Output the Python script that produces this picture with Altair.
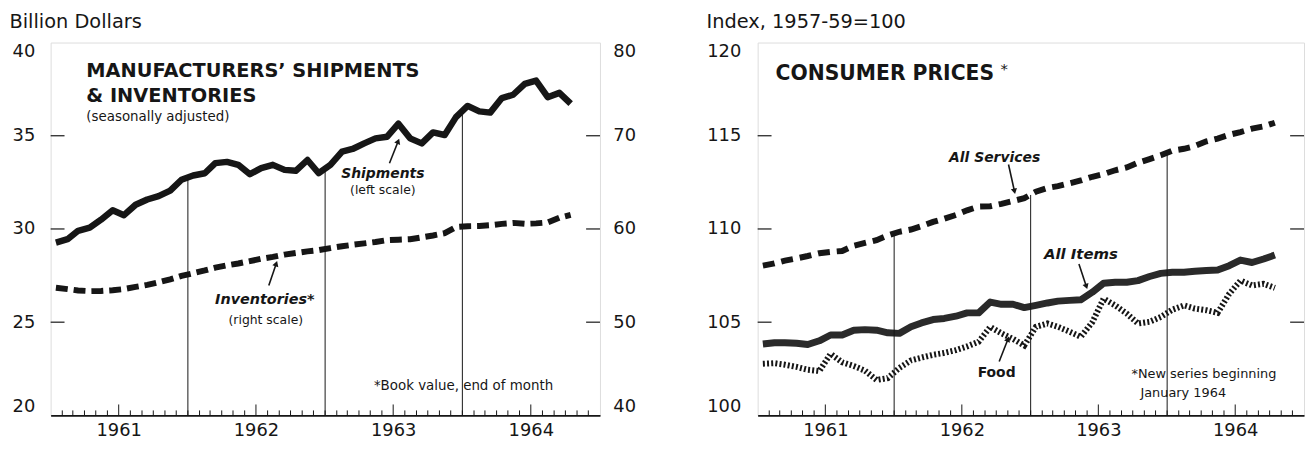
import math
import altair as alt
import pandas as pd

# ---------------- data (monthly, Jan 1961 - Oct 1964) ----------------
months = [f"{1961 + i // 12}-{i % 12 + 1:02d}-15" for i in range(46)]

shipments = [29.27, 29.45, 29.90, 30.07, 30.50, 31.00, 30.74, 31.30, 31.58, 31.76, 32.06, 32.64,
             32.87, 32.99, 33.53, 33.60, 33.44, 32.94, 33.26, 33.44, 33.17, 33.12, 33.70, 32.99,
             33.44, 34.15, 34.29, 34.59, 34.86, 34.95, 35.65, 34.86, 34.59, 35.18, 35.04, 36.00,
             36.60, 36.31, 36.24, 37.02, 37.20, 37.78, 37.96, 37.07, 37.30, 36.72]

inventories = [53.70, 53.55, 53.40, 53.33, 53.35, 53.43, 53.55, 53.78, 54.00, 54.28, 54.60, 54.97,
               55.25, 55.55, 55.85, 56.10, 56.30, 56.55, 56.80, 57.00, 57.25, 57.42, 57.60, 57.73,
               57.95, 58.15, 58.30, 58.45, 58.60, 58.80, 58.85, 58.90, 59.10, 59.30, 59.55, 60.20,
               60.30, 60.32, 60.40, 60.55, 60.65, 60.55, 60.60, 60.70, 61.20, 61.50]

services = [108.03, 108.15, 108.30, 108.42, 108.55, 108.70, 108.77, 108.82, 109.10, 109.25, 109.40, 109.65,
            109.85, 109.97, 110.15, 110.38, 110.55, 110.75, 111.00, 111.20, 111.22, 111.35, 111.50, 111.65,
            112.00, 112.20, 112.30, 112.45, 112.60, 112.80, 112.94, 113.15, 113.30, 113.55, 113.75, 113.95,
            114.20, 114.30, 114.45, 114.70, 114.85, 115.05, 115.20, 115.38, 115.50, 115.70]

all_items = [103.83, 103.90, 103.90, 103.87, 103.80, 104.00, 104.31, 104.31, 104.57, 104.60, 104.57, 104.43,
             104.40, 104.75, 104.96, 105.14, 105.20, 105.32, 105.50, 105.50, 106.08, 105.96, 105.96, 105.78,
             105.90, 106.03, 106.13, 106.17, 106.20, 106.61, 107.09, 107.14, 107.14, 107.23, 107.45, 107.62,
             107.68, 107.68, 107.73, 107.77, 107.80, 108.03, 108.33, 108.20, 108.39, 108.60]

food = [102.77, 102.80, 102.72, 102.60, 102.45, 102.38, 103.30, 102.85, 102.65, 102.40, 101.90, 102.00,
        102.55, 102.95, 103.10, 103.25, 103.35, 103.50, 103.70, 103.95, 104.75, 104.40, 104.10, 103.75,
        104.75, 104.93, 104.75, 104.49, 104.22, 105.00, 106.26, 105.90, 105.46, 104.93, 105.02, 105.28,
        105.67, 105.90, 105.73, 105.64, 105.50, 106.52, 107.23, 106.97, 107.06, 106.84]

year_labels = [1961, 1962, 1963, 1964]
left_ticks = [20, 25, 30, 35, 40]
right_ticks = [40, 50, 60, 70, 80]
cpi_ticks = [100, 105, 110, 115, 120]

# ---------------- style ----------------
FONT = "DejaVu Sans"
INK = "#161616"
W1, W2, H = 554, 551, 376


def dt(y, m, d=1):
    return alt.DateTime(year=y, month=m, date=d, utc=True)


xscale = alt.Scale(type="utc", domain=[dt(1961, 1), dt(1965, 1)])
one = pd.DataFrame({"a": [0]})

xaxis = alt.Axis(values=[dt(y, 7) for y in year_labels],
                 labelExpr="utcFormat(datum.value, '%Y')",
                 ticks=False, tickSize=0, grid=False, domain=True, domainColor=INK, domainWidth=2,
                 labelFont=FONT, labelFontSize=18, labelColor=INK, labelPadding=6,
                 labelFlush=False, labelOverlap=False, title=None)


def X():
    return alt.X("date:T", scale=xscale, axis=xaxis)


def yaxis(values, title=None, orient="left", pad=16, tx=-42):
    kw = dict(values=values, orient=orient, ticks=False, tickSize=0, domain=False, grid=False,
              labelFlush=True, labelPadding=pad, labelFont=FONT, labelFontSize=18, labelColor=INK)
    if title:
        kw.update(title=title, titleAngle=0, titleAlign="left", titleBaseline="alphabetic",
                  titleX=tx, titleY=-15, titleFont=FONT, titleFontSize=19.5,
                  titleFontWeight="normal", titleColor=INK)
    else:
        kw.update(title=None)
    return alt.Axis(**kw)


def label(txt, x, y, size, weight="normal", style="normal", align="left"):
    return alt.Chart(one).mark_text(text=txt, font=FONT, fontSize=size, fontWeight=weight,
                                    fontStyle=style, align=align, baseline="alphabetic",
                                    color=INK).encode(x=alt.value(x), y=alt.value(y))


def arrow(x0, y0, x1, y1):
    ang = math.degrees(math.atan2(x1 - x0, -(y1 - y0))) % 360
    shaft = alt.Chart(one).mark_rule(color=INK, strokeWidth=1.6).encode(
        x=alt.value(x0), y=alt.value(y0), x2=alt.value(x1), y2=alt.value(y1))
    head = alt.Chart(one).mark_point(shape="triangle-up", filled=True, size=40, color=INK,
                                     opacity=1, angle=ang).encode(x=alt.value(x1), y=alt.value(y1))
    return [shaft, head]


tick_dates = [f"{1961 + i // 12}-{i % 12 + 1:02d}-01" for i in range(1, 48)]
small_df = pd.DataFrame({"date": [d for i, d in zip(range(1, 48), tick_dates) if i % 12 != 6]})
tall_df = pd.DataFrame({"date": [d for i, d in zip(range(1, 48), tick_dates) if i % 12 == 6]})


def month_ticks():
    s = alt.Chart(small_df).mark_rule(color=INK, strokeWidth=1).encode(
        x=X(), y=alt.value(H), y2=alt.value(H - 5))
    t = alt.Chart(tall_df).mark_rule(color=INK, strokeWidth=1).encode(
        x=X(), y=alt.value(H), y2=alt.value(H - 11))
    return [s, t]


def side_ticks(vals, sc, w, ax):
    d = pd.DataFrame({"v": vals})
    a = alt.Chart(d).mark_rule(color=INK, strokeWidth=1.2).encode(
        y=alt.Y("v:Q", scale=sc, axis=ax), x=alt.value(0), x2=alt.value(14))
    b = alt.Chart(d).mark_rule(color=INK, strokeWidth=1.2).encode(
        y=alt.Y("v:Q", scale=sc, axis=ax), x=alt.value(w - 14), x2=alt.value(w))
    return [a, b]


def year_lines(series, sc, ax):
    d = pd.DataFrame({"date": [f"{y}-01-01" for y in (1962, 1963, 1964)],
                      "top": [(series[12 * k - 1] + series[12 * k]) / 2 for k in (1, 2, 3)]})
    return alt.Chart(d).mark_rule(color=INK, strokeWidth=1).encode(
        x=X(), y=alt.Y("top:Q", scale=sc, axis=ax), y2=alt.value(H))


# ---------------- left panel ----------------
dfL = pd.DataFrame({"date": months, "shipments": shipments, "inventories": inventories})
ysL = alt.Scale(domain=[20, 40], zero=False, nice=False)
ysR = alt.Scale(domain=[40, 80], zero=False, nice=False)

ship = alt.Chart(dfL).mark_line(color=INK, strokeWidth=6.5, strokeJoin="round").encode(
    x=X(), y=alt.Y("shipments:Q", scale=ysL, axis=yaxis(left_ticks, "Billion Dollars", "left", 16, -42)))
inv = alt.Chart(dfL).mark_line(color=INK, strokeWidth=6, strokeDash=[12, 6]).encode(
    x=X(), y=alt.Y("inventories:Q", scale=ysR, axis=yaxis(right_ticks, None, "right", 13)))

left_layers = [ship, inv, year_lines(shipments, ysL, None)] + month_ticks() + side_ticks([25, 30, 35], ysL, W1, None)
left_layers += [
    label("MANUFACTURERS\u2019 SHIPMENTS", 36, 35, 19.5, "bold"),
    label("& INVENTORIES", 36, 60, 19.5, "bold"),
    label("(seasonally adjusted)", 36, 79, 13.5),
    label("Shipments", 335, 137, 14, "bold", "italic", "center"),
    label("(left scale)", 335, 153, 12.5, align="center"),
    label("Inventories*", 216, 264, 14.5, "bold", "italic", "center"),
    label("(right scale)", 217, 284, 12.5, align="center"),
    label("*Book value, end of month", 326, 350, 13.5),
]
left_layers += arrow(341.7, 121.7, 350.5, 99.5) + arrow(220, 245, 227.5, 223)

left = alt.layer(*left_layers).resolve_scale(y="independent").properties(width=W1, height=H)

# ---------------- right panel ----------------
dfR = pd.DataFrame({"date": months, "services": services, "items": all_items, "food": food})
ysC = alt.Scale(domain=[100, 120], zero=False, nice=False)
yaxC = yaxis(cpi_ticks, "Index, 1957-59=100", "left", 17, -52)

serv = alt.Chart(dfR).mark_line(color=INK, strokeWidth=6, strokeDash=[12, 7]).encode(
    x=X(), y=alt.Y("services:Q", scale=ysC, axis=yaxC))
items = alt.Chart(dfR).mark_line(color="#2a2a2a", strokeWidth=7, strokeJoin="round").encode(
    x=X(), y=alt.Y("items:Q", scale=ysC, axis=yaxC))
fd = alt.Chart(dfR).mark_line(color=INK, strokeWidth=6, strokeDash=[2, 2.2]).encode(
    x=X(), y=alt.Y("food:Q", scale=ysC, axis=yaxC))

right_layers = [serv, items, fd, year_lines(services, ysC, yaxC)] + month_ticks() + side_ticks([105, 110, 115], ysC, W2, yaxC)
right_layers += [
    label("CONSUMER  PRICES", 18, 38, 20.5, "bold"),
    label("*", 245, 32, 15),
    label("All Services", 239, 120, 14, "bold", "italic", "center"),
    label("All Items", 326, 218, 15, "bold", "italic", "center"),
    label("Food", 241, 337, 14, "bold", align="center"),
    label("*New series beginning", 377, 338, 13),
    label("January 1964", 386, 357, 13),
]
right_layers += arrow(253, 123, 259, 150) + arrow(324, 223.3, 331.5, 246) + arrow(243.6, 321.7, 252.5, 299)

right = alt.layer(*right_layers).properties(width=W2, height=H)

chart = alt.hconcat(left, right, spacing=69).properties(
    padding={"left": 0, "top": 1, "right": 0, "bottom": 0}
).configure_view(stroke=INK, strokeWidth=1).configure(background="white")

chart.save("out.html", embed_options={"renderer": "svg", "actions": False})
